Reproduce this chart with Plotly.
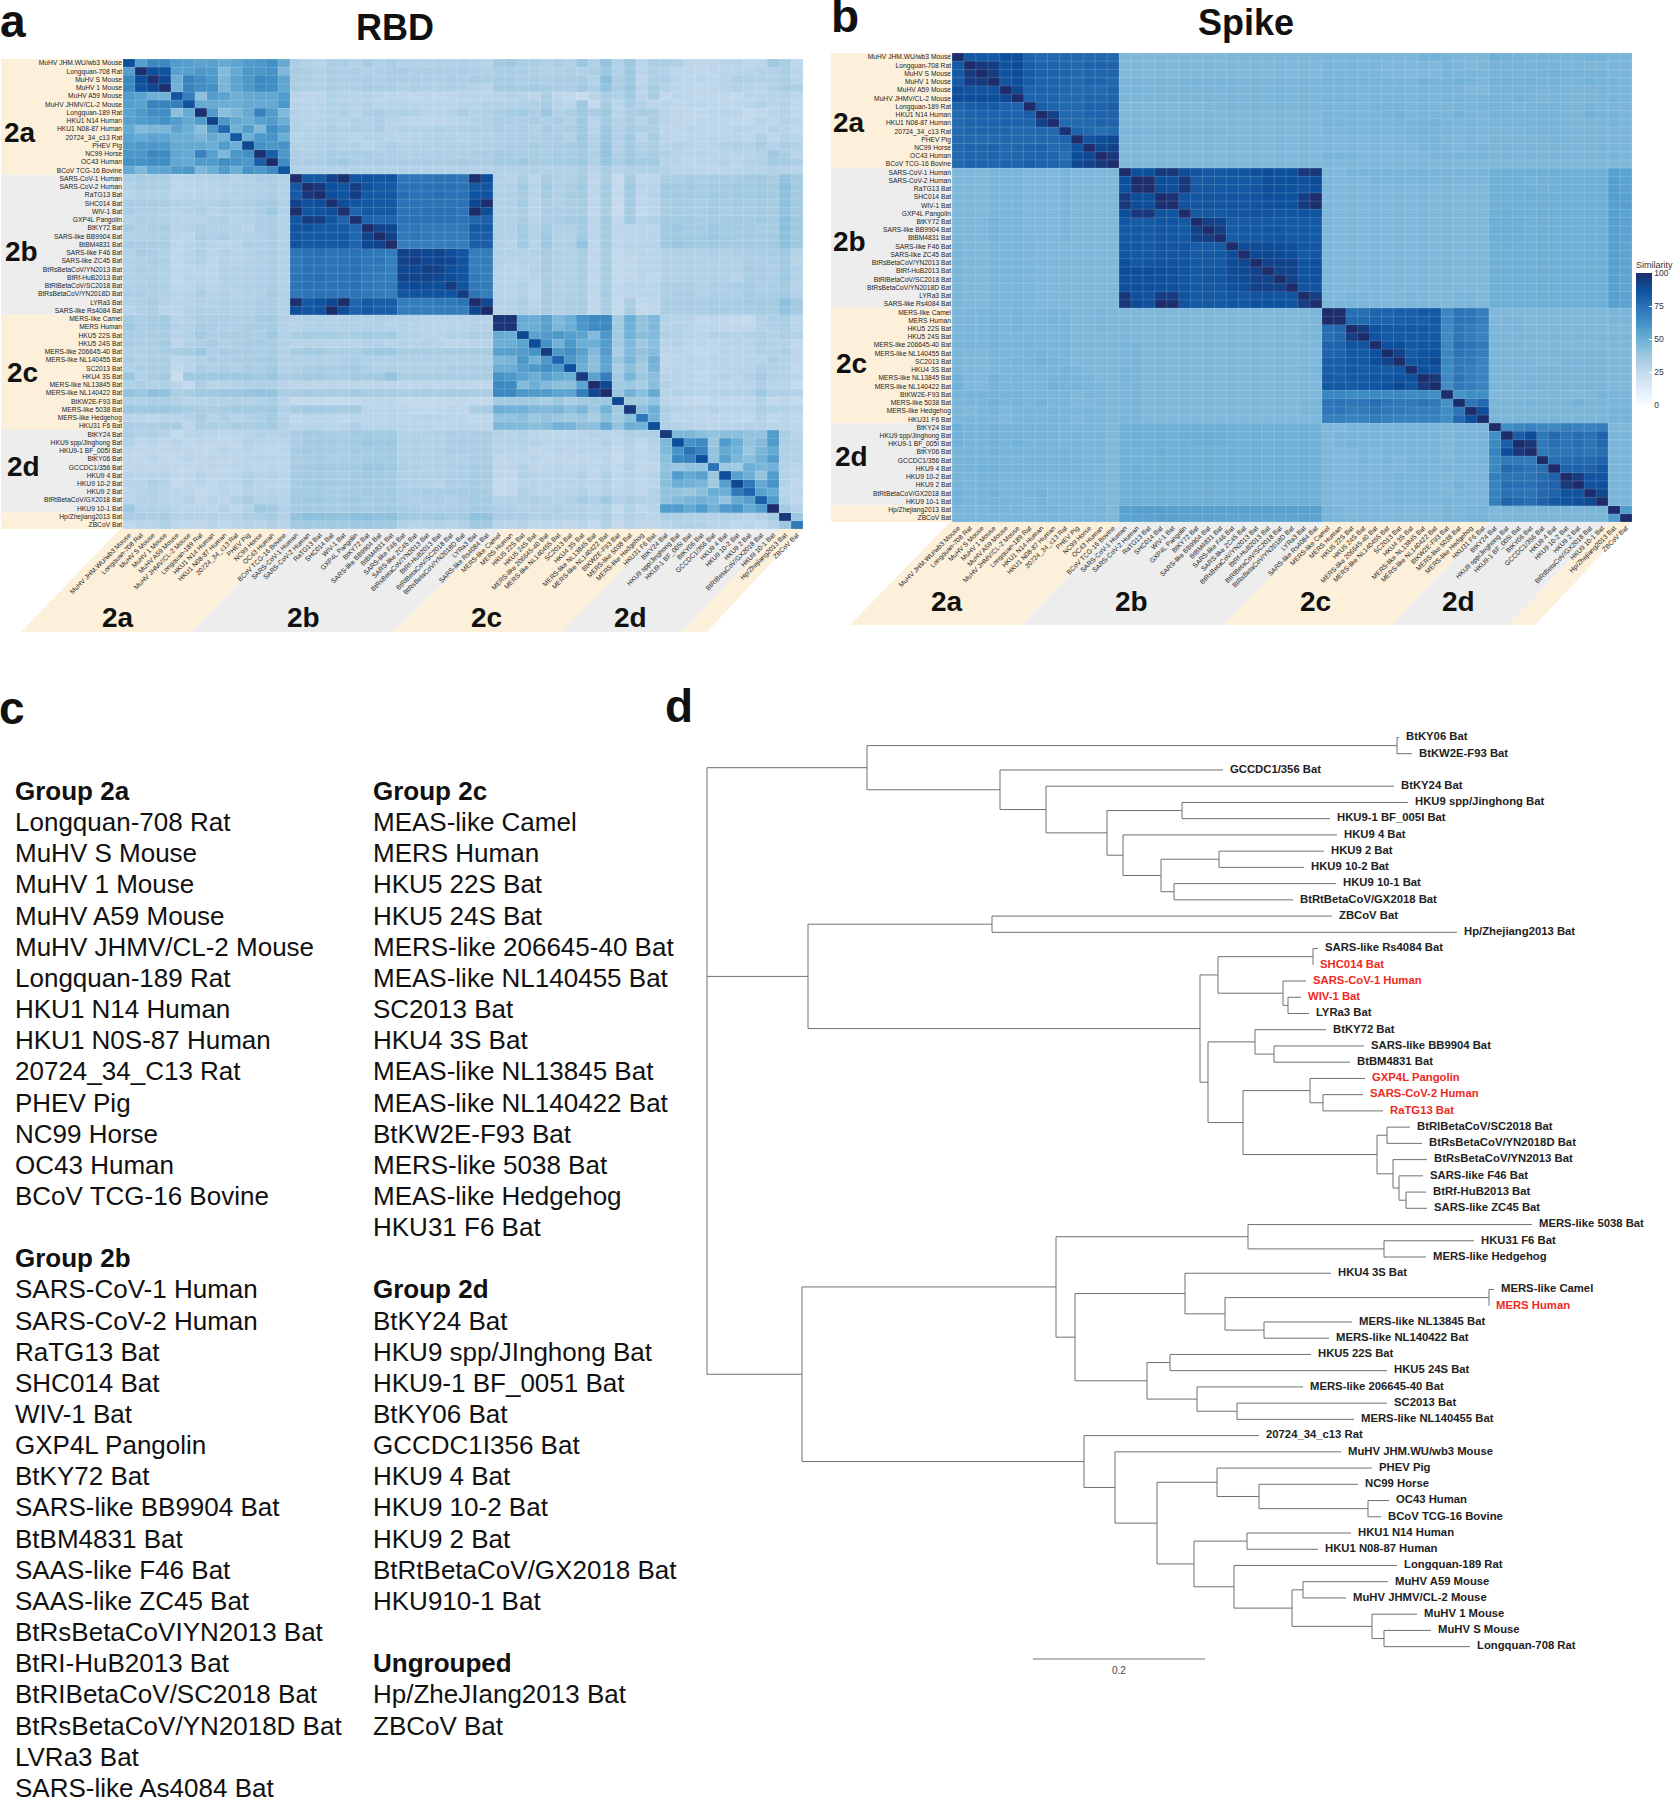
#!/usr/bin/env python3
"""Betacoronavirus RBD / Spike similarity heatmaps, group lists and phylogeny."""

import numpy as np
import plotly.graph_objects as go

W, H = 1673, 1800
FONT = "Liberation Sans"

GROUP_NAMES = ["2a", "2b", "2c", "2d"]
GROUP_SIZES = [14, 17, 14, 10, 2]

STRAINS = [
    "MuHV JHM.WU/wb3 Mouse", "Longquan-708 Rat", "MuHV S Mouse", "MuHV 1 Mouse", "MuHV A59 Mouse",
    "MuHV JHMV/CL-2 Mouse", "Longquan-189 Rat", "HKU1 N14 Human", "HKU1 N08-87 Human", "20724_34_c13 Rat",
    "PHEV Pig", "NC99 Horse", "OC43 Human", "BCoV TCG-16 Bovine",
    "SARS-CoV-1 Human", "SARS-CoV-2 Human", "RaTG13 Bat", "SHC014 Bat", "WIV-1 Bat", "GXP4L Pangolin",
    "BtKY72 Bat", "SARS-like BB9904 Bat", "BtBM4831 Bat", "SARS-like F46 Bat", "SARS-like ZC45 Bat",
    "BtRsBetaCoV/YN2013 Bat", "BtRf-HuB2013 Bat", "BtRlBetaCoV/SC2018 Bat", "BtRsBetaCoV/YN2018D Bat",
    "LYRa3 Bat", "SARS-like Rs4084 Bat",
    "MERS-like Camel", "MERS Human", "HKU5 22S Bat", "HKU5 24S Bat", "MERS-like 206645-40 Bat",
    "MERS-like NL140455 Bat", "SC2013 Bat", "HKU4 3S Bat", "MERS-like NL13845 Bat", "MERS-like NL140422 Bat",
    "BtKW2E-F93 Bat", "MERS-like 5038 Bat", "MERS-like Hedgehog", "HKU31 F6 Bat",
    "BtKY24 Bat", "HKU9 spp/Jinghong Bat", "HKU9-1 BF_005I Bat", "BtKY06 Bat", "GCCDC1/356 Bat", "HKU9 4 Bat",
    "HKU9 10-2 Bat", "HKU9 2 Bat", "BtRtBetaCoV/GX2018 Bat", "HKU9 10-1 Bat",
    "Hp/Zhejiang2013 Bat", "ZBCoV Bat",
]

# upper triangle, one string per row starting at the diagonal; "v*n" repeats v, "|" just splits groups
RBD_UPPER = [
    "88 57 66 66 58 57 55 56 52 55 58 60 63 52 | 33 31 29 33 33 30 34 31 33 31 31 30 31 31 32 31 29 | 35 37 33 33 31 33 31 38 31 40 31 38 28 33 | 33 31 27 26 27 28 29 27 28 37 | 33 26",
    "99 88 86 56 56 60 58 44 52 60 60 62 45 | 34 33 31 33 32 33 31 32 33 34 32 33 32 32 33 32 31 | 33 33 33 32 31 31 32 31 33 38 31 37 29 32 | 30 27 27 26 27 28 29 29 30 30 | 33 28",
    "98 90 50 68 64 60 46 55 60 66 64 54 | 33 32 30 33 32 32 33 32 33 33 33 32 32 33 32 34 33 | 34 34 33 33 32 33 33 34 30 42 33 37 27 32 | 32 28 27 28 27 29 32 31 30 31 | 33 28",
    "99 48 68 64 63 46 54 60 65 64 54 | 33 32 31 33 31 32 34 33 33 31 32 31 31 32 31 30 28 | 35 35 34 35 34 33 33 36 32 40 33 38 29 34 | 30 27 27 26 27 29 30 29 29 31 | 34 32",
    "85 70 42 58 55 50 52 53 53 58 | 28 27 27 31 29 29 29 28 27 27 26 27 26 27 28 28 27 | 29 30 29 27 33 27 26 23 28 33 31 36 28 34 | 25 28 27 26 26 26 25 28 28 29 | 30 27",
    "86 52 52 50 50 52 52 52 60 | 29 28 28 31 30 29 30 28 29 29 29 28 29 28 29 29 30 | 30 30 31 31 34 29 28 37 25 34 28 34 30 27 | 29 26 27 28 26 26 27 28 30 28 | 30 26",
    "98 58 42 46 52 68 58 45 | 30 29 29 30 32 29 32 33 31 32 31 29 29 30 33 30 31 | 33 34 36 32 38 31 33 37 33 37 29 33 34 33 | 29 27 26 26 27 29 28 25 26 28 | 30 26",
    "92 60 52 50 56 58 50 | 30 29 29 31 29 31 30 32 29 28 27 27 27 28 29 30 31 | 33 33 32 34 32 33 31 37 28 36 30 33 29 33 | 28 27 26 27 27 27 26 26 29 27 | 30 28",
    "78 48 58 45 64 58 | 31 30 30 33 30 32 30 33 29 31 30 30 31 30 31 32 31 | 33 32 33 31 34 32 33 37 29 38 30 34 32 32 | 27 27 28 27 27 27 29 28 27 30 | 29 26",
    "84 50 60 62 50 | 29 30 30 31 30 29 30 30 29 29 29 30 30 30 29 30 30 | 32 32 33 32 33 33 31 37 30 38 31 36 29 34 | 28 27 27 27 28 28 28 27 31 27 | 30 28",
    "90 63 60 62 | 31 30 31 32 30 31 29 30 32 30 30 30 30 31 31 31 31 | 32 33 33 34 33 33 34 37 31 39 30 35 31 33 | 29 30 29 28 29 31 32 30 34 30 | 33 30",
    "98 82 60 | 33 31 32 34 33 33 33 32 32 32 31 32 32 32 31 33 33 | 35 34 33 34 33 34 33 36 32 40 31 36 32 34 | 31 29 28 29 28 29 29 29 30 37 | 33 28",
    "100 65 | 33 33 33 35 37 33 33 34 33 33 33 33 33 33 34 33 33 | 36 35 37 34 34 35 36 38 31 39 33 37 35 36 | 29 29 27 28 28 30 28 30 31 35 | 35 32",
    "86 | 31 30 30 31 30 30 30 30 30 30 30 30 30 30 31 30 30 | 31 30 31 31 30 30 30 33 28 33 29 31 30 31 | 30 28 28 27 27 28 28 29 29 31 | 30 28",
    "100 84 84 92 99 85 86 85 86 73 73 73 74 74 73 99 88 | 30 29 33 28 34 31 31 34 27 33 24 34 26 28 | 33 33 34 33 34 34 34 35 36 34 | 40 36",
    "100 96 87 85 94 86 84 84 75 75 75 75 75 74 84 85 | 31 31 35 29 36 31 33 36 27 35 25 36 28 29 | 36 35 36 34 35 35 36 36 37 35 | 42 36",
    "100 88 86 94 84 84 84 76 75 75 76 75 75 86 86 | 31 31 34 29 35 31 34 35 27 34 25 35 27 29 | 35 36 35 35 36 35 36 36 37 35 | 41 35",
    "99 88 85 84 84 84 74 74 74 74 74 74 90 100 | 30 30 35 28 33 31 33 34 27 34 24 35 27 28 | 34 35 34 33 35 34 35 34 36 34 | 41 36",
    "99 80 84 84 84 74 74 75 75 75 73 100 88 | 30 30 33 28 33 32 33 33 26 33 24 34 26 28 | 33 34 33 33 35 33 34 34 35 34 | 40 35",
    "99 80 79 80 75 75 75 75 75 74 79 81 | 31 31 34 29 33 33 35 36 27 36 26 35 29 32 | 36 36 36 34 35 35 36 35 37 35 | 42 37",
    "100 92 90 73 73 72 72 72 72 84 84 | 31 31 36 30 36 31 32 35 27 34 27 28 28 28 | 36 38 35 35 38 36 35 36 34 34 | 42 37",
    "100 92 72 73 72 71 71 71 82 82 | 32 31 35 30 37 31 31 36 27 34 27 28 28 29 | 36 37 36 36 38 36 35 35 35 35 | 41 37",
    "100 70 70 70 70 71 70 82 82 | 30 29 36 29 37 31 32 40 27 34 27 29 29 29 | 36 38 36 36 37 35 35 36 35 36 | 41 37",
    "93 92 90 92 88 85 70 70 | 30 30 30 30 34 31 31 33 27 33 25 27 28 28 | 30 31 31 31 32 31 32 33 33 34 | 37 30",
    "94 90 91 90 86 70 71 | 30 29 30 29 34 31 31 33 26 33 25 26 28 28 | 30 31 31 30 31 30 31 33 32 33 | 36 29",
    "94 92 88 86 70 70 | 29 29 29 30 34 31 31 33 27 34 25 26 29 28 | 30 30 30 30 30 31 31 34 33 32 | 36 30",
    "90 88 86 72 70 | 29 29 29 29 33 30 31 33 26 33 25 26 28 27 | 30 30 31 30 30 31 29 33 33 32 | 37 30",
    "95 86 72 71 | 29 29 31 27 34 30 32 33 27 34 26 28 28 28 | 33 33 33 31 32 32 33 34 32 33 | 35 29",
    "94 74 70 | 29 29 30 27 34 31 32 33 26 34 26 27 28 28 | 32 33 33 31 32 32 32 35 33 33 | 36 30",
    "100 90 | 30 30 33 28 34 31 33 34 26 33 25 33 26 27 | 33 33 33 33 34 34 34 35 36 35 | 41 36",
    "100 | 29 30 32 29 34 31 33 33 26 33 25 34 26 27 | 33 33 33 33 34 34 33 34 35 34 | 40 35",
    "97 97 52 50 56 45 50 62 66 66 36 50 40 45 | 30 29 29 26 27 26 25 25 30 32 | 33 28",
    "97 50 50 56 46 50 60 65 66 36 48 40 45 | 29 30 29 27 27 26 26 26 30 32 | 33 28",
    "90 55 58 60 57 55 44 60 36 48 42 44 | 31 30 29 28 30 30 29 31 32 30 | 33 30",
    "88 62 48 60 50 50 58 36 45 37 42 | 28 30 27 28 27 29 29 29 32 30 | 30 26",
    "95 60 64 56 44 58 33 44 40 43 | 27 28 27 26 27 28 29 28 31 31 | 32 27",
    "80 60 52 42 55 38 46 38 48 | 27 28 28 27 28 29 28 29 29 32 | 30 27",
    "88 50 42 54 33 42 35 47 | 27 29 27 27 27 28 29 29 32 30 | 30 26",
    "95 55 70 36 46 38 42 | 28 29 28 26 28 30 29 31 35 30 | 31 28",
    "100 90 36 38 34 42 | 30 28 28 27 27 27 28 28 32 29 | 29 25",
    "100 38 48 42 52 | 29 31 29 28 29 31 30 31 37 31 | 32 30",
    "90 36 36 40 | 28 27 25 24 26 26 26 27 31 25 | 27 24",
    "96 42 50 | 32 30 29 29 30 29 29 29 33 31 | 30 29",
    "72 48 | 31 27 27 27 26 27 26 26 30 26 | 28 26",
    "88 | 32 30 29 28 27 29 28 30 30 29 | 28 27",
    "96 45 45 42 40 42 42 40 40 58 | 33 28",
    "88 62 66 38 58 50 40 44 58 | 32 30",
    "75 68 40 52 48 38 46 52 | 31 30",
    "88 40 56 46 42 48 58 | 30 31",
    "74 38 36 50 46 48 | 30 28",
    "88 56 50 40 58 | 30 28",
    "90 72 52 62 | 30 26",
    "80 56 52 | 28 28",
    "82 58 | 30 26",
    "100 | 35 30",
    "96 38",
    "72",
]

SPIKE_UPPER = [
    "100 84 84 84 88 88 80 78 78 78 78 78 78 78 | 45*9 46*8 | 46*8 48 48 47 46 46 46 | 49 48 48 47 47 47 47 47 48 48 | 46 46",
    "100 95 94 86 88 82 80 80 79 78 80 80 80 | 45*17 | 46*5 45*5 47 46 45 46 | 47*6 46*4 | 46 46",
    "100 95 86 88 83 81 80 79 78 79 79 80 | 45*17 | 46*5 45*5 47 46 46 46 | 47*5 48 47*4 | 46 46",
    "100 86 88 83 80 80 79 78 80 80 79 | 46*6 47*3 46*8 | 47*6 46 46 48 47 47 48 47 46 | 48*4 47 48 47 47 48 47 | 47 46",
    "100 90 80 80 80 79 78 78 78 80 | 46*17 | 46*10 47 46 45 45 | 47*6 46 46 46 47 | 46 46",
    "100 80 80 80 78 78 79 79 80 | 46*17 | 47*3 46*3 47 46 47 46 47 47 46 46 | 47 47 48 47 46 47 46 46 46 46 | 47 46",
    "100 82 80 78 78 80 80 82 | 45*8 46*9 | 46 46 46 46 47 47 47 46 46 46 46 46 47 47 | 47 47 46 47 47 47 46 46 47 46 | 46 46",
    "100 92 78 78 80 80 80 | 45*17 | 46 46 46 46 46 47 48 46 46 46 46 48 46 46 | 47*6 46 46 48 47 | 47 46",
    "100 78 78 78 80 80 | 45*17 | 47 47 46 46 46 46 47 46 47 48 46 46 47 46 | 47*6 46 46 46 46 | 47 46",
    "98 80 78 76 78 | 46*9 45*8 | 46*7 47 47 47 46 46 46 46 | 46*3 47*3 46*4 | 46 46",
    "100 86 88 90 | 45*17 | 45*7 46 46 47 45 45 46 45 | 46*5 47 46*4 | 46 46",
    "100 90 92 | 45*17 | 45*8 46 46 46 45 46 46 | 46*9 47 | 46 46",
    "100 96 | 45*17 | 46*3 45*6 46 46 46 46 46 | 46*10 | 47 46",
    "100 | 45*17 | 45*14 | 45*10 | 45 45",
    "100 87 87 95 96 88 85 84 84 85 85 87 88 87 87 96 96 | 45 45 46 46 46 46 46 46 47 46 46 46 46 46 | 49*10 | 56 55",
    "100 99 88 88 96 83 84 84 84 84 84 88 87 87 87 89 | 45*4 46*10 | 49*3 48*2 49*5 | 57 55",
    "100 88 88 96 84 84 84 84 84 85 88 87 87 86 87 | 45*14 | 49*4 48*2 49*4 | 57 55",
    "100 98 86 85 85 85 85 85 86 87 87 87 94 100 | 45*14 | 49*3 50 49*6 | 57 56",
    "100 86 85 85 85 85 85 86 87 87 87 95 99 | 45*14 | 49*10 | 56 56",
    "100 84 84 84 85 85 86 86 85 85 86 86 | 45*14 | 49 50 49*8 | 56 55",
    "100 93 92 83 83 84 84 84 84 84 84 | 45*14 | 50 50 50 49 49 49 49 49 49 49 | 56 55",
    "100 94 83 84 84 85 85 84 84 84 | 45*14 | 50*3 49*7 | 56 55",
    "100 83 84 84 85 85 84 84 84 | 45*14 | 50*3 49*7 | 56 55",
    "100 88 89 89 88 87 85 85 | 45*14 | 49*10 | 56 54",
    "100 90 90 89 88 84 85 | 45*14 | 49*10 | 56 54",
    "100 92 92 93 86 87 | 45*14 | 49*10 | 56 54",
    "100 92 92 86 87 | 45*14 | 49*10 | 56 54",
    "100 93 86 87 | 45*14 | 49*10 | 56 54",
    "100 86 86 | 45*14 | 49*10 | 56 54",
    "100 94 | 45 45 46 46 45 45 45 46 45 45 45 46 46 45 | 49*10 | 56 55",
    "100 | 46 46 46 46 45 45 45 46 45 45 45 46 46 45 | 49*10 | 56 55",
    "100 100 76 76 80 80 82 82 84 84 67 74 73 70 | 45*10 | 46 46",
    "100 78 78 80 80 82 82 82 84 67 74 73 70 | 45 46 46 45*7 | 46 46",
    "100 94 86 84 84 84 84 83 65 73 71 68 | 46 46 47 45*7 | 45 45",
    "100 86 84 84 83 84 84 65 73 71 68 | 46*10 | 46 46",
    "100 87 88 84 85 85 66 76 74 72 | 46*3 45*7 | 45 45",
    "100 92 83 86 87 66 74 72 70 | 46*10 | 45 45",
    "100 85 87 90 66 72 72 68 | 46 46 46 46 45 45 46 46 46 46 | 45 45",
    "100 87 86 65 72 70 68 | 46*10 | 45 45",
    "100 96 66 74 70 68 | 46*10 | 45 45",
    "100 64 72 70 68 | 46*3 47 46*6 | 45 45",
    "100 62 64 64 | 45*5 46 45*3 47 | 46 46",
    "100 74 78 | 46*3 47 46*3 48 46 46 | 46 46",
    "100 88 | 46*10 | 47 47",
    "100 | 46*10 | 47 47",
    "100 64 66 68 66 66 70 68 68 70 | 45 45",
    "100 82 88 72 78 74 76 75 80 | 46 46",
    "100 96 72 76 74 76 74 78 | 46 46",
    "100 72 74 74 75 74 76 | 46 46",
    "100 76 77 78 78 80 | 46 46",
    "100 80 80 80 84 | 46 46",
    "100 95 86 86 | 46 46",
    "100 86 87 | 46 46",
    "100 90 | 46 46",
    "100 | 46 46",
    "100 58",
    "100",
]

# phylogeny: (depth, children) or (depth, leaf name); depth is read against the 0.2 scale bar (172 units)
TREE = (0, [
    (160, [
        (690, [(692, "BtKY06 Bat"), (705, "BtKW2E-F93 Bat")]),
        (293, [
            (516, "GCCDC1/356 Bat"),
            (339, [
                (687, "BtKY24 Bat"),
                (400, [
                    (475, [(701, "HKU9 spp/Jinghong Bat"), (623, "HKU9-1 BF_005I Bat")]),
                    (416, [
                        (630, "HKU9 4 Bat"),
                        (454, [
                            (512, [(617, "HKU9 2 Bat"), (597, "HKU9 10-2 Bat")]),
                            (467, [(629, "HKU9 10-1 Bat"), (586, "BtRtBetaCoV/GX2018 Bat")]),
                        ]),
                    ]),
                ]),
            ]),
        ]),
    ]),
    (101, [
        (285, [(625, "ZBCoV Bat"), (750, "Hp/Zhejiang2013 Bat")]),
        (493, [
            (511, [
                (606, [(611, "SARS-like Rs4084 Bat"), (606, "SHC014 Bat")]),
                (576, [(599, "SARS-CoV-1 Human"), (581, [(594, "WIV-1 Bat"), (602, "LYRa3 Bat")])]),
            ]),
            (501, [
                (548, [(619, "BtKY72 Bat"), (567, [(657, "SARS-like BB9904 Bat"), (643, "BtBM4831 Bat")])]),
                (536, [
                    (603, [(658, "GXP4L Pangolin"), (616, [(656, "SARS-CoV-2 Human"), (676, "RaTG13 Bat")])]),
                    (670, [
                        (680, [(703, "BtRlBetaCoV/SC2018 Bat"), (715, "BtRsBetaCoV/YN2018D Bat")]),
                        (686, [
                            (720, "BtRsBetaCoV/YN2013 Bat"),
                            (692, [
                                (716, "SARS-like F46 Bat"),
                                (699, [(719, "BtRf-HuB2013 Bat"), (720, "SARS-like ZC45 Bat")]),
                            ]),
                        ]),
                    ]),
                ]),
            ]),
        ]),
    ]),
    (95, [
        (349, [
            (541, [(825, "MERS-like 5038 Bat"), (677, [(767, "HKU31 F6 Bat"), (719, "MERS-like Hedgehog")])]),
            (368, [
                (478, [
                    (624, "HKU4 3S Bat"),
                    (518, [
                        (782, [(787, "MERS-like Camel"), (782, "MERS Human")]),
                        (557, [(645, "MERS-like NL13845 Bat"), (622, "MERS-like NL140422 Bat")]),
                    ]),
                ]),
                (440, [
                    (463, [(604, "HKU5 22S Bat"), (680, "HKU5 24S Bat")]),
                    (490, [
                        (596, "MERS-like 206645-40 Bat"),
                        (530, [(680, "SC2013 Bat"), (647, "MERS-like NL140455 Bat")]),
                    ]),
                ]),
            ]),
        ]),
        (377, [
            (552, "20724_34_c13 Rat"),
            (408, [
                (634, "MuHV JHM.WU/wb3 Mouse"),
                (450, [
                    (510, [
                        (665, "PHEV Pig"),
                        (552, [(651, "NC99 Horse"), (661, [(682, "OC43 Human"), (674, "BCoV TCG-16 Bovine")])]),
                    ]),
                    (487, [
                        (540, [(644, "HKU1 N14 Human"), (611, "HKU1 N08-87 Human")]),
                        (527, [
                            (690, "Longquan-189 Rat"),
                            (585, [
                                (596, [(681, "MuHV A59 Mouse"), (639, "MuHV JHMV/CL-2 Mouse")]),
                                (665, [
                                    (710, "MuHV 1 Mouse"),
                                    (677, [(724, "MuHV S Mouse"), (763, "Longquan-708 Rat")]),
                                ]),
                            ]),
                        ]),
                    ]),
                ]),
            ]),
        ]),
    ]),
])
RED_LEAVES = ["SHC014 Bat", "SARS-CoV-1 Human", "WIV-1 Bat", "GXP4L Pangolin", "SARS-CoV-2 Human", "RaTG13 Bat",
              "MERS Human"]
SCALE_START, SCALE_LEN, SCALE_LABEL = 326, 172, "0.2"

# panel c, None leaves a blank line
LIST_COL1 = [
    "Group 2a", "Longquan-708 Rat", "MuHV S Mouse", "MuHV 1 Mouse", "MuHV A59 Mouse", "MuHV JHMV/CL-2 Mouse",
    "Longquan-189 Rat", "HKU1 N14 Human", "HKU1 N0S-87 Human", "20724_34_C13 Rat", "PHEV Pig", "NC99 Horse",
    "OC43 Human", "BCoV TCG-16 Bovine", None,
    "Group 2b", "SARS-CoV-1 Human", "SARS-CoV-2 Human", "RaTG13 Bat", "SHC014 Bat", "WIV-1 Bat", "GXP4L Pangolin",
    "BtKY72 Bat", "SARS-like BB9904 Bat", "BtBM4831 Bat", "SAAS-like F46 Bat", "SAAS-like ZC45 Bat",
    "BtRsBetaCoVIYN2013 Bat", "BtRI-HuB2013 Bat", "BtRIBetaCoV/SC2018 Bat", "BtRsBetaCoV/YN2018D Bat",
    "LVRa3 Bat", "SARS-like As4084 Bat",
]
LIST_COL2 = [
    "Group 2c", "MEAS-like Camel", "MERS Human", "HKU5 22S Bat", "HKU5 24S Bat", "MERS-like 206645-40 Bat",
    "MEAS-like NL140455 Bat", "SC2013 Bat", "HKU4 3S Bat", "MEAS-like NL13845 Bat", "MEAS-like NL140422 Bat",
    "BtKW2E-F93 Bat", "MERS-like 5038 Bat", "MEAS-like Hedgehog", "HKU31 F6 Bat", None,
    "Group 2d", "BtKY24 Bat", "HKU9 spp/JInghong Bat", "HKU9-1 BF_0051 Bat", "BtKY06 Bat", "GCCDC1I356 Bat",
    "HKU9 4 Bat", "HKU9 10-2 Bat", "HKU9 2 Bat", "BtRtBetaCoV/GX2018 Bat", "HKU910-1 Bat", None,
    "Ungrouped", "Hp/ZheJIang2013 Bat", "ZBCoV Bat",
]

BLUES = [[0, "#f7fbff"], [0.125, "#deebf7"], [0.25, "#c3d9ec"], [0.375, "#9dc8e0"], [0.5, "#6baed6"],
         [0.625, "#4392c6"], [0.75, "#2a71b5"], [0.875, "#0c4f9c"], [1, "#1d2d6b"]]
BEIGE, GREY = "#fdf0da", "#ededed"


def px(x):
    return x / W


def py(y):
    return 1 - y / H


def parse_upper(rows):
    n = len(STRAINS)
    m = np.full((n, n), np.nan)
    for i, row in enumerate(rows):
        vals = []
        for tok in row.replace("|", " ").split():
            if "*" in tok:
                v, k = tok.split("*")
                vals += [float(v)] * int(k)
            else:
                vals.append(float(tok))
        for j, v in zip(range(i, n), vals):
            m[i, j] = m[j, i] = v
    return m


def label(x, y, text, size, bold=False, anchor="center", color="#111"):
    return dict(xref="paper", yref="paper", x=px(x), y=py(y), text=f"<b>{text}</b>" if bold else text,
                showarrow=False, xanchor=anchor, yanchor="middle",
                font=dict(family=FONT, size=size, color=color))


fig = go.Figure()
shapes, notes = [], []

# heatmap panels: matrix, box in pixels, name of axes, group label rows
panels = [
    dict(z=parse_upper(RBD_UPPER), box=(123, 803, 59, 529), ax="", side_left=1, band_bottom=632,
         slant_top=[120, 290, 500, 662, 780, 803], slant_bottom=[21, 192, 393, 562, 682, 707],
         side_text=[(20, 132), (21, 251), (22, 373), (23, 467)], bottom_text=[118, 303, 486, 630], bottom_y=618),
    dict(z=parse_upper(SPIKE_UPPER), box=(952, 1632, 53, 522), ax="2", side_left=831, band_bottom=625,
         slant_top=[950, 1120, 1325, 1489, 1608, 1632], slant_bottom=[850, 1022, 1223, 1392, 1508, 1535],
         side_text=[(849, 122), (850, 241), (851, 363), (851, 457)], bottom_text=[947, 1131, 1315, 1458], bottom_y=601),
]

for p in panels:
    x0, x1, y0, y1 = p["box"]
    n = len(STRAINS)
    idx = list(range(n))
    fig.add_trace(go.Heatmap(
        z=p["z"], x=idx, y=idx, zmin=0, zmax=100, colorscale=BLUES,
        xaxis="x" + p["ax"], yaxis="y" + p["ax"], hoverongaps=False,
        showscale=p["ax"] == "2",
        colorbar=dict(title=dict(text="Similarity", side="top", font=dict(family=FONT, size=9, color="#333")),
                      x=px(1636), xanchor="left", xpad=0, y=py(258), yanchor="top", ypad=0,
                      lenmode="pixels", len=147, thicknessmode="pixels", thickness=16, outlinewidth=0,
                      tickvals=[0, 25, 50, 75, 100], ticks="inside", tickcolor="white", ticklen=3,
                      tickfont=dict(family=FONT, size=8.5, color="#333")),
    ))
    # faint white lines between cells
    grid_x, grid_y = [], []
    for k in range(n + 1):
        grid_x += [k - 0.5, k - 0.5, None, -0.5, n - 0.5, None]
        grid_y += [-0.5, n - 0.5, None, k - 0.5, k - 0.5, None]
    fig.add_trace(go.Scatter(x=grid_x, y=grid_y, mode="lines", xaxis="x" + p["ax"], yaxis="y" + p["ax"],
                             hoverinfo="skip", line=dict(color="rgba(255,255,255,0.16)", width=1)))
    tick = dict(tickmode="array", tickvals=idx, ticktext=STRAINS, ticks="", showgrid=False, zeroline=False,
                showline=False, tickfont=dict(family=FONT, size=6.7, color="#222"))
    fig.update_layout({
        "xaxis" + p["ax"]: dict(domain=[px(x0), px(x1)], range=[-0.5, n - 0.5], anchor="y" + p["ax"],
                                tickangle=-45, **tick),
        "yaxis" + p["ax"]: dict(domain=[py(y1), py(y0)], range=[n - 0.5, -0.5], anchor="x" + p["ax"], **tick),
    })

    # group bands left of and below the matrix
    step = (y1 - y0) / n
    start = 0
    for g, size in enumerate(GROUP_SIZES):
        colour = BEIGE if g % 2 == 0 else GREY
        shapes.append(dict(type="rect", xref="paper", yref="paper", layer="below", line_width=0, fillcolor=colour,
                           x0=px(p["side_left"]), x1=px(x0), y0=py(y0 + start * step),
                           y1=py(y0 + (start + size) * step)))
        t, b = p["slant_top"], p["slant_bottom"]
        path = (f"M {px(t[g])} {py(y1)} L {px(t[g + 1])} {py(y1)} "
                f"L {px(b[g + 1])} {py(p['band_bottom'])} L {px(b[g])} {py(p['band_bottom'])} Z")
        shapes.append(dict(type="path", path=path, xref="paper", yref="paper", layer="below", line_width=0,
                           fillcolor=colour))
        start += size
    for name, (sx, sy), bx in zip(GROUP_NAMES, p["side_text"], p["bottom_text"]):
        notes.append(label(sx, sy, name, 28, bold=True))
        notes.append(label(bx, p["bottom_y"], name, 28, bold=True))

# phylogeny drawn on an axis pair spanning the whole page: depth across, leaf number down
LEAF_Y0, LEAF_STEP, ROOT_X = 737.5, 16.235, 707
fig.update_layout(
    xaxis3=dict(domain=[0, 1], range=[-ROOT_X, W - ROOT_X], visible=False, anchor="y3"),
    yaxis3=dict(domain=[0, 1], range=[(H - LEAF_Y0) / LEAF_STEP, -LEAF_Y0 / LEAF_STEP], visible=False, anchor="x3"),
)

edge_x, edge_y, leaf_x, leaf_y, leaf_text, leaf_col = [], [], [], [], [], []


def walk(node, parent_depth):
    depth, kids = node
    if isinstance(kids, str):
        y = len(leaf_x)
        leaf_x.append(depth + 7)
        leaf_y.append(y)
        leaf_text.append(f"<b>{kids}</b>")
        leaf_col.append("#ee2a24" if kids in RED_LEAVES else "#222")
    else:
        ys = [walk(k, depth) for k in kids]
        y = (ys[0] + ys[-1]) / 2
        edge_x.extend([depth, depth, None])
        edge_y.extend([ys[0], ys[-1], None])
    edge_x.extend([parent_depth, depth, None])
    edge_y.extend([y, y, None])
    return y


walk(TREE, 0)

fig.add_trace(go.Scatter(x=edge_x, y=edge_y, mode="lines", xaxis="x3", yaxis="y3", hoverinfo="skip",
                         line=dict(color="#707070", width=1)))
fig.add_trace(go.Scatter(x=leaf_x, y=leaf_y, mode="text", xaxis="x3", yaxis="y3", text=leaf_text,
                         textposition="middle right", hoverinfo="skip",
                         textfont=dict(family=FONT, size=11.3, color=leaf_col)))
scale_y = (1659 - LEAF_Y0) / LEAF_STEP
fig.add_trace(go.Scatter(x=[SCALE_START, SCALE_START + SCALE_LEN], y=[scale_y, scale_y], mode="lines", xaxis="x3",
                         yaxis="y3", hoverinfo="skip", line=dict(color="#777", width=1)))
notes.append(label(1119, 1670, SCALE_LABEL, 10, color="#444"))

# panel letters and titles
notes += [label(13, 21, "a", 46, bold=True), label(845, 16, "b", 46, bold=True),
          label(12, 708, "c", 46, bold=True), label(679, 706, "d", 46, bold=True),
          label(395, 28, "RBD", 36, bold=True), label(1246, 22, "Spike", 36, bold=True)]

# panel c lists
for x_left, lines in [(13, LIST_COL1), (371, LIST_COL2)]:
    for i, line in enumerate(lines):
        if line:
            heading = line.startswith("Group") or line == "Ungrouped"
            notes.append(label(x_left, 791 + 31.15 * i, line, 26, bold=heading, anchor="left"))

fig.update_layout(width=W, height=H, margin=dict(l=0, r=0, t=0, b=0, autoexpand=False),
                  paper_bgcolor="white", plot_bgcolor="rgba(0,0,0,0)",
                  showlegend=False, shapes=shapes, annotations=notes, font=dict(family=FONT))

# the default page margin would push the figure 8px off the window
fig.write_html("out.html", config={"displayModeBar": False}, post_script="document.body.style.margin = '0';")
